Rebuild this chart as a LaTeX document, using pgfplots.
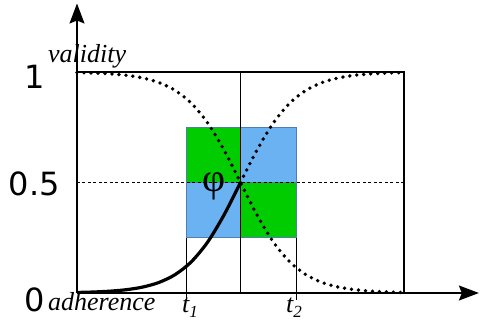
\documentclass[border=0pt]{standalone}
\usepackage{fontspec}
\setmainfont{Liberation Serif}
\newfontfamily\numfont{DejaVu Sans}
\usepackage{pgfplots}
\pgfplotsset{compat=1.18}
\usetikzlibrary{arrows.meta}
\definecolor{sqgreen}{HTML}{00CC00}
\definecolor{sqblue}{HTML}{6BB2F2}
\definecolor{sqedge}{HTML}{4F7FB0}

\begin{document}
\begin{tikzpicture}
\path[use as bounding box] (-77pt,-40pt) rectangle (403pt,293pt);
\begin{axis}[
    at={(0,0)}, anchor=origin,
    x=327pt, y=221pt,
    xmin=0, xmax=1.229, ymin=0, ymax=1.31,
    axis lines=left,
    axis line style={line width=1.5pt, -{Stealth[length=20pt,width=15pt,inset=3pt]}},
    xtick=\empty, ytick=\empty,
    clip=false,
]
% squares
\addplot[fill=sqgreen, draw=sqedge, line width=0.7pt] coordinates {(0.335,0.5) (0.5,0.5) (0.5,0.75) (0.335,0.75) (0.335,0.5)};
\addplot[fill=sqblue, draw=sqedge, line width=0.7pt] coordinates {(0.5,0.5) (0.67,0.5) (0.67,0.75) (0.5,0.75) (0.5,0.5)};
\addplot[fill=sqblue, draw=sqedge, line width=0.7pt] coordinates {(0.335,0.25) (0.5,0.25) (0.5,0.5) (0.335,0.5) (0.335,0.25)};
\addplot[fill=sqgreen, draw=sqedge, line width=0.7pt] coordinates {(0.5,0.25) (0.67,0.25) (0.67,0.5) (0.5,0.5) (0.5,0.25)};

% frame lines
\addplot[black, line width=1.1pt] coordinates {(0,1) (1,1) (1,0)};
\addplot[black, line width=1.1pt] coordinates {(0.5,0) (0.5,1)};
\addplot[black, line width=1.1pt] coordinates {(0.335,-0.03) (0.335,0.25)};
\addplot[black, line width=1.1pt] coordinates {(0.67,-0.03) (0.67,0.25)};
\addplot[black, line width=0.9pt, dash pattern=on 3pt off 2.5pt] coordinates {(0,0.5) (1,0.5)};

% decreasing validity
\addplot[black, line width=3.8pt, line cap=round, dash pattern=on 0pt off 7pt, smooth] coordinates {
(0,0.9975) (0.05,0.9955) (0.1,0.9918) (0.15,0.9852) (0.2,0.9734) (0.25,0.9526)
(0.3,0.9168) (0.35,0.8582) (0.4,0.7685) (0.45,0.6457) (0.5,0.5) (0.55,0.3543)
(0.6,0.2315) (0.65,0.1419) (0.7,0.0832) (0.75,0.0474) (0.8,0.0266) (0.85,0.0148)
(0.9,0.0082) (0.95,0.0045) (1,0.0025)};
% increasing validity
\addplot[black, line width=3.8pt, line cap=round, dash pattern=on 0pt off 7pt, smooth] coordinates {
(0.5,0.5) (0.55,0.6457) (0.6,0.7685) (0.65,0.8582) (0.7,0.9168) (0.75,0.9526)
(0.8,0.9734) (0.85,0.9852) (0.9,0.9918) (0.95,0.9955) (1,0.9975)};
% adherence so far
\addplot[black, line width=3.2pt, smooth] coordinates {
(0,0.0025) (0.05,0.0045) (0.1,0.0082) (0.15,0.0148) (0.2,0.0266) (0.25,0.0474)
(0.3,0.0832) (0.35,0.1419) (0.4,0.2315) (0.45,0.3543) (0.5,0.5)};

% labels
\node[font=\numfont\fontsize{32}{32}\selectfont] at (axis cs:-0.128,0.977) {1};
\node[font=\numfont\fontsize{32}{32}\selectfont] at (axis cs:-0.131,0.495) {0.5};
\node[font=\numfont\fontsize{32}{32}\selectfont] at (axis cs:-0.13,-0.032) {0};
\node[anchor=base west, inner sep=0pt, font=\itshape\fontsize{26}{26}\selectfont] at (axis cs:-0.0887,1.041) {validity};
\node[anchor=base west, inner sep=0pt, font=\itshape\fontsize{26}{26}\selectfont] at (axis cs:-0.0887,-0.081) {adherence};
\node[anchor=base west, inner sep=0pt, font=\itshape\fontsize{26}{26}\selectfont] at (axis cs:0.321,-0.086) {t\raisebox{-5pt}{\fontsize{17}{17}\selectfont 1}};
\node[anchor=base west, inner sep=0pt, font=\itshape\fontsize{26}{26}\selectfont] at (axis cs:0.639,-0.09) {t\raisebox{-5pt}{\fontsize{17}{17}\selectfont 2}};
\node[font=\fontsize{40}{40}\selectfont] at (axis cs:0.418,0.484) {φ};
\end{axis}
\end{tikzpicture}
\end{document}
